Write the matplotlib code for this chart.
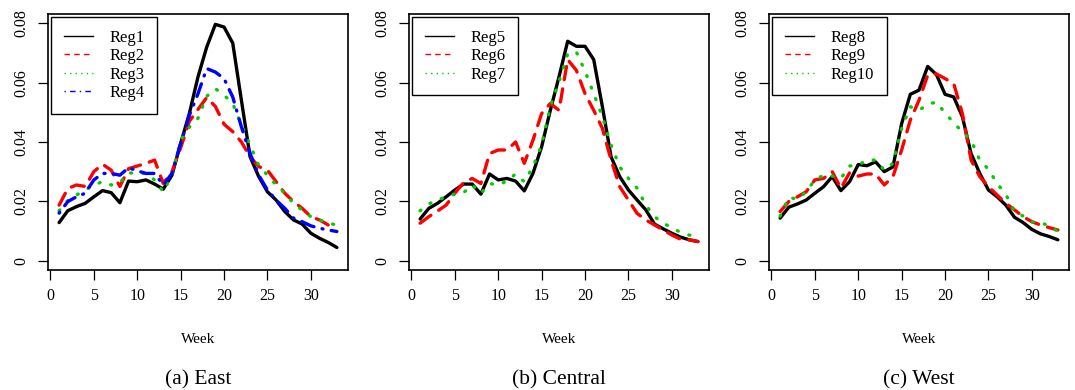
import matplotlib
matplotlib.use("Agg")
import matplotlib.pyplot as plt
from matplotlib.lines import Line2D
import numpy as np

plt.rcParams['font.family'] = ['Liberation Serif', 'DejaVu Serif']

weeks = list(range(1, 34))

reg1 = [0.0128, 0.0168, 0.0182, 0.0193, 0.0215, 0.0236, 0.0229, 0.0195, 0.0268, 0.0266,
        0.0272, 0.0258, 0.0241, 0.0288, 0.0395, 0.0496, 0.0620, 0.0720, 0.0797, 0.0788,
        0.0734, 0.0541, 0.0350, 0.0283, 0.0232, 0.0204, 0.0165, 0.0137, 0.0123, 0.0092,
        0.0075, 0.0061, 0.0044]
reg2 = [0.0187, 0.0243, 0.0255, 0.0250, 0.0300, 0.0325, 0.0305, 0.0250, 0.0310, 0.0319,
        0.0328, 0.0339, 0.0260, 0.0300, 0.0380, 0.0470, 0.0510, 0.0550, 0.0520, 0.0460,
        0.0435, 0.0400, 0.0350, 0.0317, 0.0305, 0.0266, 0.0227, 0.0199, 0.0176, 0.0148,
        0.0137, 0.0120, 0.0118]
reg3 = [0.0168, 0.0202, 0.0221, 0.0238, 0.0255, 0.0266, 0.0255, 0.0263, 0.0296, 0.0294,
        0.0294, 0.0272, 0.0232, 0.0290, 0.0406, 0.0450, 0.0480, 0.0554, 0.0580, 0.0558,
        0.0530, 0.0457, 0.0390, 0.0320, 0.0288, 0.0255, 0.0227, 0.0193, 0.0170, 0.0148,
        0.0137, 0.0126, 0.0120]
reg4 = [0.0160, 0.0199, 0.0215, 0.0227, 0.0272, 0.0294, 0.0294, 0.0288, 0.0313, 0.0303,
        0.0294, 0.0294, 0.0255, 0.0294, 0.0395, 0.0490, 0.0563, 0.0648, 0.0636, 0.0614,
        0.0552, 0.0451, 0.0361, 0.0288, 0.0238, 0.0204, 0.0176, 0.0143, 0.0131, 0.0117,
        0.0109, 0.0103, 0.0098]

reg5 = [0.0140, 0.0176, 0.0193, 0.0215, 0.0238, 0.0258, 0.0258, 0.0224, 0.0292, 0.0272,
        0.0277, 0.0268, 0.0235, 0.0294, 0.0384, 0.0507, 0.0620, 0.0740, 0.0723, 0.0723,
        0.0678, 0.0519, 0.0350, 0.0283, 0.0238, 0.0204, 0.0171, 0.0123, 0.0107, 0.0092,
        0.0079, 0.0070, 0.0064]
reg6 = [0.0126, 0.0148, 0.0167, 0.0187, 0.0227, 0.0263, 0.0277, 0.0260, 0.0361, 0.0373,
        0.0373, 0.0400, 0.0328, 0.0406, 0.0496, 0.0530, 0.0507, 0.0678, 0.0642, 0.0563,
        0.0507, 0.0446, 0.0339, 0.0249, 0.0204, 0.0159, 0.0137, 0.0120, 0.0103, 0.0086,
        0.0072, 0.0070, 0.0064]
reg7 = [0.0168, 0.0191, 0.0204, 0.0215, 0.0224, 0.0229, 0.0255, 0.0227, 0.0260, 0.0255,
        0.0268, 0.0292, 0.0266, 0.0316, 0.0390, 0.0519, 0.0603, 0.0698, 0.0704, 0.0639,
        0.0563, 0.0485, 0.0390, 0.0316, 0.0277, 0.0244, 0.0187, 0.0148, 0.0126, 0.0111,
        0.0095, 0.0086, 0.0079]

reg8 = [0.0143, 0.0180, 0.0191, 0.0204, 0.0227, 0.0249, 0.0283, 0.0236, 0.0266, 0.0324,
        0.0320, 0.0333, 0.0300, 0.0316, 0.0462, 0.0561, 0.0575, 0.0655, 0.0628, 0.0561,
        0.0552, 0.0485, 0.0361, 0.0294, 0.0238, 0.0215, 0.0187, 0.0146, 0.0128, 0.0105,
        0.0090, 0.0081, 0.0070]
reg9 = [0.0165, 0.0199, 0.0215, 0.0232, 0.0272, 0.0277, 0.0300, 0.0244, 0.0296, 0.0285,
        0.0292, 0.0292, 0.0255, 0.0283, 0.0373, 0.0474, 0.0541, 0.0625, 0.0630, 0.0614,
        0.0597, 0.0496, 0.0339, 0.0283, 0.0249, 0.0221, 0.0193, 0.0171, 0.0148, 0.0131,
        0.0120, 0.0111, 0.0103]
reg10 = [0.0150, 0.0213, 0.0207, 0.0232, 0.0272, 0.0288, 0.0285, 0.0277, 0.0319, 0.0322,
         0.0339, 0.0339, 0.0305, 0.0328, 0.0446, 0.0519, 0.0507, 0.0527, 0.0535, 0.0498,
         0.0465, 0.0434, 0.0406, 0.0339, 0.0308, 0.0260, 0.0223, 0.0167, 0.0150, 0.0130,
         0.0128, 0.0117, 0.0098]

panels = [
    ("(a) East", ["Reg1", "Reg2", "Reg3", "Reg4"], [reg1, reg2, reg3, reg4]),
    ("(b) Central", ["Reg5", "Reg6", "Reg7"], [reg5, reg6, reg7]),
    ("(c) West", ["Reg8", "Reg9", "Reg10"], [reg8, reg9, reg10]),
]

yticks = [0, 0.02, 0.04, 0.06, 0.08]
ytick_labels = ["0", "0.02", "0.04", "0.06", "0.08"]
xticks = [0, 5, 10, 15, 20, 25, 30]

colors = ["black", "#FF0000", "#00CD00", "#0000FF"]
dash_styles = [None, (4.0, 2.8), (0.3, 3.4), (0.3, 2.5, 4.0, 2.5)]
legend_dashes = [None, (4, 3), (1, 3), (1, 3, 4, 3)]

W, H = 1075, 390
fig = plt.figure(figsize=(W / 100, H / 100), dpi=100)
lefts = [48, 409, 769]
axw = 300
top_px, bot_px = 14, 270

for (title, names, series), lpx in zip(panels, lefts):
    ax = fig.add_axes([lpx / W, (H - bot_px) / H, axw / W, (bot_px - top_px) / H])
    handles = []
    for i, (name, vals) in enumerate(zip(names, series)):
        kw = dict(color=colors[i], lw=2.4, solid_joinstyle='round', dash_joinstyle='round',
                  solid_capstyle='round', dash_capstyle='round')
        ln, = ax.plot(weeks, vals, **kw)
        if dash_styles[i] is not None:
            ln.set_dashes(dash_styles[i])
        h = Line2D([], [], color=colors[i], lw=1.0)
        if legend_dashes[i] is not None:
            h.set_dashes(legend_dashes[i])
        handles.append(h)
    ax.set_xlim(-0.28, 34.28)
    ax.set_ylim(-0.0032, 0.0832)
    ax.set_xticks(xticks)
    ax.set_xticklabels([str(t) for t in xticks], fontsize=11.5)
    ax.set_yticks(yticks)
    ax.set_yticklabels(ytick_labels, fontsize=11.5, rotation=90, va='center')
    ax.tick_params(direction='out', length=7.2, width=0.9, pad=6, colors='black')
    for s in ax.spines.values():
        s.set_linewidth(1.2)
        s.set_color('black')
    leg = ax.legend(handles, names, loc='upper left', fontsize=12, frameon=True,
                    fancybox=False, borderaxespad=0.2, borderpad=0.75,
                    handlelength=1.75, handletextpad=1.0, labelspacing=0.15)
    leg.get_frame().set_edgecolor('black')
    leg.get_frame().set_linewidth(1.0)
    leg.get_frame().set_alpha(1.0)
    cx = (lpx + axw / 2) / W
    fig.text(cx, (H - 339.5) / H, "Week", ha='center', va='center', fontsize=11)
    fig.text(cx, (H - 380) / H, title, ha='center', va='center', fontsize=15.5)

fig.savefig("out.png", dpi=100)
